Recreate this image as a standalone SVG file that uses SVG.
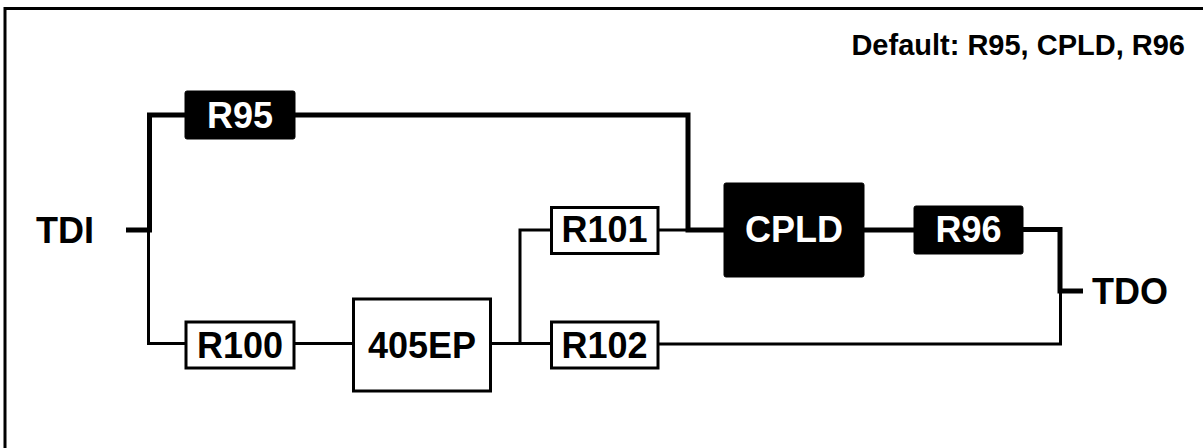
<svg xmlns="http://www.w3.org/2000/svg" width="1203" height="448" viewBox="0 0 1203 448">
<style>
text{font-family:"Liberation Sans",Arial,sans-serif;font-weight:bold;}
.lbl{font-size:36px;text-anchor:middle;}
.w{fill:#fff;}
.k{fill:#000;}
.bb{fill:#000;stroke:#000;stroke-width:1;}
.wb{fill:#fff;stroke:#000;stroke-width:3;}
.thick{fill:none;stroke:#000;stroke-width:5;stroke-linejoin:miter;}
.thin{fill:none;stroke:#000;stroke-width:3;stroke-linejoin:miter;}
</style>
<rect x="0" y="0" width="1203" height="448" fill="#fff"/>
<rect x="5" y="8.5" width="1220" height="460" fill="none" stroke="#000" stroke-width="3"/>
<text x="1185" y="55" font-size="29" text-anchor="end" class="k">Default: R95, CPLD, R96</text>
<g id="connectors">
<path class="thick" d="M126,230 H149.5 V115 H186"/>
<path class="thick" d="M294,115 H688 V230 H725"/>
<path class="thin" d="M148.5,230 V343.5 H186"/>
<path class="thin" d="M294,343.5 H353"/>
<path class="thin" d="M490,343.5 H551"/>
<path class="thin" d="M520,343.5 V230 H551"/>
<path class="thin" d="M658,230 H688"/>
<path class="thick" d="M864,230 H914"/>
<path class="thick" d="M1022,229.5 H1060 V291 H1083"/>
<path class="thin" d="M658,344 H1060.5 V291"/>
</g>
<g id="TDI"><text x="65" y="243" class="lbl k">TDI</text></g>
<g id="TDO"><text x="1130" y="304" class="lbl k">TDO</text></g>
<g id="R95"><rect x="185" y="91" width="110" height="48" rx="2" class="bb"/><text x="240" y="128" class="lbl w">R95</text></g>
<g id="R100"><rect x="186" y="322" width="108" height="46" class="wb"/><text x="240" y="358" class="lbl k">R100</text></g>
<g id="EP405"><rect x="353.5" y="299" width="137" height="92" class="wb"/><text x="422" y="358" class="lbl k">405EP</text></g>
<g id="R101"><rect x="551.5" y="207.5" width="106.5" height="46" class="wb"/><text x="604.5" y="242" class="lbl k">R101</text></g>
<g id="R102"><rect x="551.5" y="322" width="106.5" height="46" class="wb"/><text x="604.5" y="358" class="lbl k">R102</text></g>
<g id="CPLD"><rect x="724" y="183" width="140" height="94" rx="2" class="bb"/><text x="794" y="242" class="lbl w">CPLD</text></g>
<g id="R96"><rect x="914" y="206" width="109" height="48" rx="2" class="bb"/><text x="968.5" y="242" class="lbl w">R96</text></g>
</svg>
